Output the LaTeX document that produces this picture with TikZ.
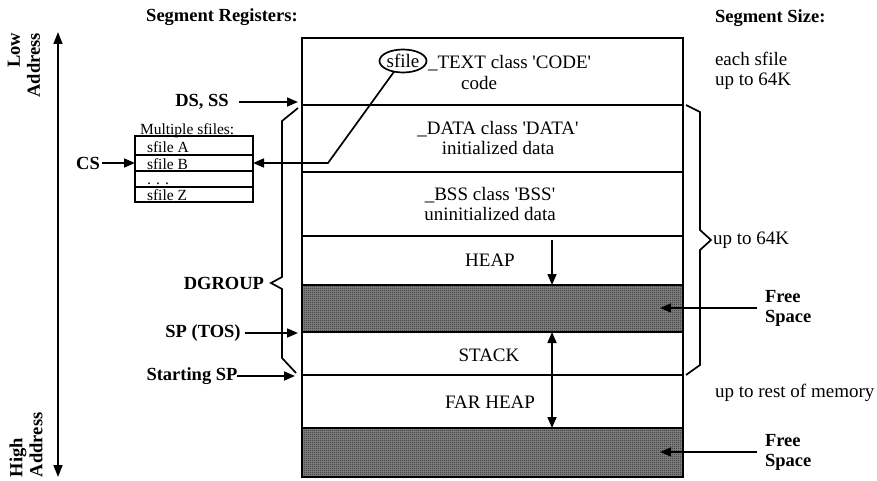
\documentclass[tikz,border=0pt]{standalone}
\usepackage{fontspec}
\setmainfont{Liberation Serif}
\usetikzlibrary{arrows.meta,shapes.geometric,patterns.meta,calc}
\tikzdeclarepattern{name=chk, type=uncolored,
  bounding box={(0pt,0pt) and (2pt,2pt)}, tile size={(2pt,2pt)},
  code={\fill (0pt,0pt) rectangle (1pt,1pt); \fill (1pt,1pt) rectangle (2pt,2pt);}}
\begin{document}
\begin{tikzpicture}[x=1pt,y=-1pt,
  every node/.style={inner sep=0pt, outer sep=0pt},
  seg/.style={draw, line width=1.7pt, minimum width=381pt, anchor=north west},
  free/.style={seg, fill=black!45, postaction={pattern={chk}, pattern color=black}},
  memtext/.style={font=\fontsize{19}{20}\selectfont, align=center},
  lbl/.style={font=\bfseries\fontsize{18.5}{20}\selectfont},
  small/.style={font=\fontsize{15.5}{16}\selectfont},
  arr/.style={line width=1.7pt, -{Triangle[length=11pt,width=9pt]}},
  arr2/.style={line width=1.7pt, {Triangle[length=12pt,width=9pt]}-{Triangle[length=12pt,width=9pt]}},
  ln/.style={line width=1.7pt},
  row/.style={draw, line width=1.7pt, minimum width=118pt, anchor=north west}
]
\useasboundingbox (0,0) rectangle (877,481);
\fill[white] (0,0) rectangle (877,481);

% memory column
\node[seg, minimum height=67pt] (text) at (302,38) {};
\node[seg, minimum height=67pt] (data) at (302,105) {};
\node[seg, minimum height=64pt] (bss) at (302,172) {};
\node[seg, minimum height=49pt] (heap) at (302,236) {};
\node[free, minimum height=47pt] (free1) at (302,285) {};
\node[seg, minimum height=43pt] (stack) at (302,332) {};
\node[seg, minimum height=53pt] (farheap) at (302,375) {};
\node[free, minimum height=49pt] (free2) at (302,428) {};

\node[ellipse, draw, line width=1.7pt, minimum width=47pt, minimum height=23pt, memtext] (sf) at (403,61) {sfile};
\node[memtext, anchor=west] (textlbl) at (428,63) {\_TEXT class \textquotesingle CODE\textquotesingle};
\node[memtext] (code) at (479,83) {code};
\node[memtext] (datal) at (498,138) {\_DATA class \textquotesingle DATA\textquotesingle\\initialized data};
\node[memtext] (bssl) at (490,204) {\_BSS class \textquotesingle BSS\textquotesingle\\uninitialized data};
\node[memtext] (heapl) at (490,260) {HEAP};
\node[memtext] (stackl) at (489,355) {STACK};
\node[memtext] (farl) at (490,402) {FAR HEAP};

\coordinate (hx) at (552,240);
\draw[arr] (hx) -- (hx |- free1.north);
\draw[arr] (farheap.north -| hx) -- (stack.north -| hx);
\draw[arr] (farheap.north -| hx) -- (free2.north -| hx);

% sfiles box
\node[row, minimum height=19pt] (sfA) at (135,136) {};
\node[row, minimum height=16pt] (sfB) at (135,155) {};
\node[row, minimum height=16pt] (sfD) at (135,171) {};
\node[row, minimum height=15pt] (sfZ) at (135,187) {};
\node[small, anchor=base west] (mult) at (140,135) {Multiple sfiles:};
\node[small, anchor=base west] (tA) at (147,153) {sfile A};
\node[small, anchor=base west] (tB) at (147,169) {sfile B};
\node[small, anchor=base west] (tD) at (147,185) {. . .};
\node[small, anchor=base west] (tZ) at (147,200) {sfile Z};

\coordinate (bend) at (328,163);
\draw[arr] (sf.230) -- (bend) -- (sfB.east);

% address axis
\coordinate (axtop) at (58,32);
\coordinate (axbot) at (58,477);
\draw[arr2] (axbot) -- (axtop);
\node[lbl, rotate=90, align=right, anchor=east] (low) at (24,33) {Low\\Address};
\node[lbl, rotate=90, align=left, anchor=west] (high) at (26,477) {High\\Address};

% left labels
\node[lbl] (segreg) at (222,17) {Segment Registers:};
\node[lbl] (ds) at (202,102) {DS, SS};
\draw[arr, shorten <=10pt, shorten >=4pt] (ds.east) -- (ds.east -| text.west);
\node[lbl] (cs) at (88,163) {CS};
\draw[arr, shorten <=2pt] (cs.east) -- (cs.east -| sfB.west);
\node[lbl, anchor=east] (dg) at (264,283) {DGROUP};
\draw[ln] (298,108) -- (282,121) -- (282,277) -- (271,283) -- (282,289) -- (282,358) -- (296,373);
\node[lbl] (sp) at (203,333) {SP (TOS)};
\draw[arr, shorten <=4pt, shorten >=4pt] (sp.east) -- (sp.east -| stack.west);
\node[lbl] (ssp) at (192,376) {Starting SP};
\draw[arr, shorten >=7pt] (ssp.east) -- (ssp.east -| farheap.west);

% right labels
\node[lbl, anchor=west] (segsz) at (715,18) {Segment Size:};
\node[memtext, anchor=west, align=left] (each) at (715,71) {each sfile\\up to 64K};
\draw[ln] (686,105) -- (700,112) -- (700,230) -- (711,240) -- (700,250) -- (700,365) -- (686,375);
\node[memtext, anchor=west] (up64) at (713,240) {up to 64K};
\node[memtext, anchor=west] (rest) at (715,393) {up to rest of memory};
\node[lbl, anchor=west, align=left] (fs1) at (765,308) {Free\\Space};
\node[lbl, anchor=west, align=left] (fs2) at (765,452) {Free\\Space};
\coordinate (fsx) at (660,300);
\draw[arr, shorten <=8pt] (fs1.west) -- (fs1.west -| fsx);
\draw[arr, shorten <=8pt] (fs2.west) -- (fs2.west -| fsx);
\end{tikzpicture}
\end{document}
